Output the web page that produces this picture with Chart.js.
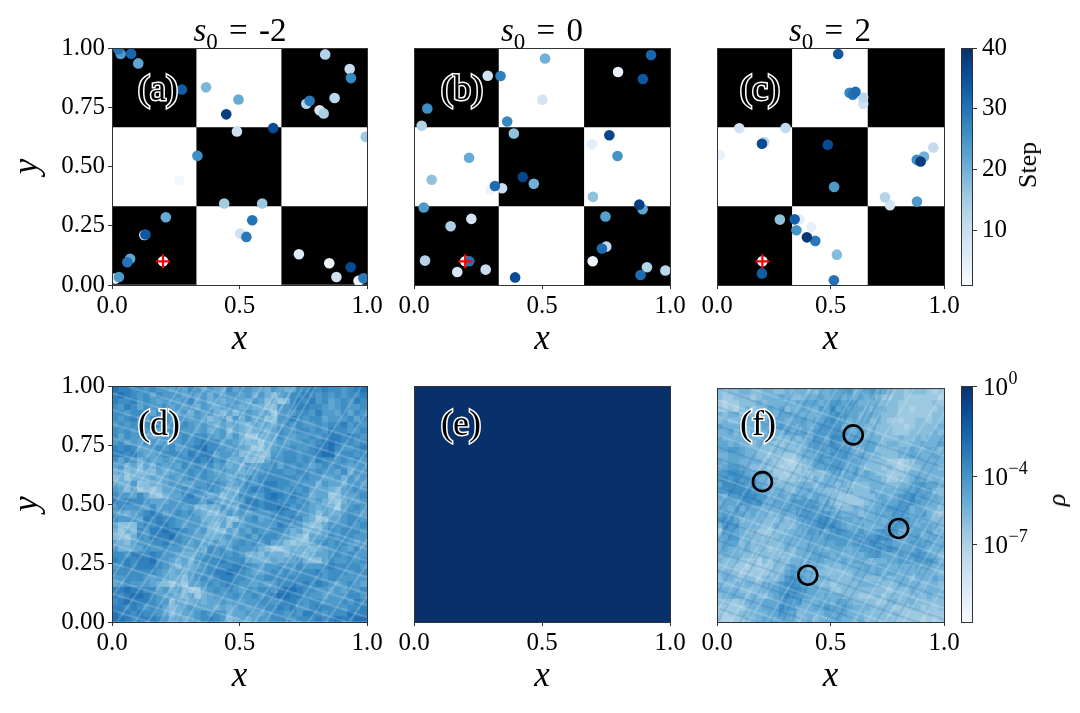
<!DOCTYPE html>
<html>
<head>
<meta charset="utf-8">
<title>Checkerboard samples</title>
<script src="https://cdn.jsdelivr.net/npm/chart.js@4"></script>
<style>
  html, body { margin: 0; background: #fff; }
  #page { position: relative; width: 1080px; height: 713px; overflow: hidden; font-family: "Liberation Serif", serif; color: #000; }
  canvas { position: absolute; }
  .title { position: absolute; font-size: 33px; line-height: 36px; white-space: nowrap; word-spacing: 3px; transform: translateX(-50%); }
  .title sub { font-size: 23px; line-height: 0; }
  .tag { position: absolute; font-size: 36px; line-height: 40px; transform: translate(-50%, -50%); -webkit-text-stroke: 3px #fff; paint-order: stroke fill; }
  .cbLabel { position: absolute; font-size: 26px; line-height: 30px; transform: translate(-50%, -50%) rotate(-90deg); }
</style>
</head>
<body>
<div id="page"></div>
<script>
// Chart data
const tickValues = [0, 0.5, 1];
const yTickValues = [0, 0.25, 0.5, 0.75, 1];
const stepTicks = [10, 20, 30, 40];
const rhoTicks = [0, -4, -7];
const titles = ['-2', '0', '2'];
const tags = ['(a)', '(b)', '(c)', '(d)', '(e)', '(f)'];

const checker = [
  [1, 0, 1],
  [0, 1, 0],
  [1, 0, 1]
];
const startX = [0.2];
const startY = [0.1];

const xA = [0.2, 0.025, 0.034, 0.075, 0.103, 0.274, 0.369, 0.496, 0.448, 0.632, 0.49, 0.335, 0.263, 0.44, 0.589, 0.211, 0.55, 0.503, 0.527, 0.127, 0.131, 0.071, 0.06, 0.013, 0.027, 0.733, 0.852, 0.936, 0.88, 0.967, 0.986, 0.836, 0.932, 0.937, 0.873, 0.762, 0.775, 0.814, 0.83, 0.995];
const yA = [0.1, 0.995, 0.975, 0.976, 0.935, 0.825, 0.834, 0.783, 0.72, 0.662, 0.648, 0.545, 0.441, 0.344, 0.344, 0.286, 0.273, 0.217, 0.203, 0.211, 0.213, 0.111, 0.096, 0.027, 0.034, 0.13, 0.092, 0.075, 0.034, 0.018, 0.028, 0.973, 0.911, 0.873, 0.789, 0.765, 0.777, 0.737, 0.724, 0.625];
const stepA = [1, 30, 24, 32, 22, 33, 19, 21, 38, 36, 9, 26, 2, 15, 16, 21, 30, 9, 29, 3, 34, 22, 30, 5, 24, 6, 3, 36, 9, 3, 29, 13, 10, 27, 12, 13, 29, 8, 14, 16];

const xB = [0.2, 0.512, 0.926, 0.797, 0.894, 0.288, 0.338, 0.501, 0.052, 0.364, 0.03, 0.39, 0.763, 0.695, 0.795, 0.215, 0.069, 0.425, 0.468, 0.344, 0.3, 0.316, 0.699, 0.038, 0.88, 0.893, 0.224, 0.143, 0.748, 0.751, 0.734, 0.043, 0.216, 0.169, 0.28, 0.698, 0.91, 0.982, 0.885, 0.395];
const yB = [0.1, 0.956, 0.97, 0.899, 0.869, 0.883, 0.882, 0.782, 0.745, 0.69, 0.672, 0.639, 0.632, 0.594, 0.544, 0.537, 0.444, 0.456, 0.427, 0.408, 0.401, 0.418, 0.372, 0.327, 0.339, 0.32, 0.279, 0.248, 0.289, 0.162, 0.154, 0.103, 0.1, 0.055, 0.065, 0.1, 0.075, 0.061, 0.042, 0.032];
const stepB = [1, 20, 32, 4, 34, 9, 28, 8, 26, 27, 13, 17, 37, 5, 25, 21, 17, 37, 20, 10, 3, 31, 17, 24, 38, 22, 8, 14, 23, 11, 31, 13, 30, 7, 10, 3, 13, 12, 31, 36];

const xC = [0.2, 0.534, 0.584, 0.61, 0.598, 0.644, 0.644, 0.098, 0.302, 0.208, 0.198, 0.488, 0.012, 0.953, 0.912, 0.88, 0.897, 0.516, 0.74, 0.762, 0.881, 0.277, 0.362, 0.342, 0.415, 0.35, 0.433, 0.396, 0.528, 0.198, 0.515];
const yC = [0.1, 0.975, 0.811, 0.815, 0.803, 0.791, 0.765, 0.661, 0.662, 0.603, 0.596, 0.592, 0.548, 0.58, 0.542, 0.528, 0.521, 0.414, 0.37, 0.337, 0.352, 0.276, 0.276, 0.277, 0.244, 0.231, 0.186, 0.201, 0.128, 0.049, 0.02];
const stepC = [1, 34, 27, 31, 30, 12, 9, 8, 11, 12, 36, 36, 4, 11, 20, 26, 38, 24, 13, 8, 24, 17, 5, 33, 4, 25, 29, 39, 18, 33, 30];

// Density panels, estimated by eye. One digit per cell, rows from the top.
// The digit picks a log10(rho) value out of shadeLevels.
const shadeLevels = [-7.6, -7.05, -6.5, -5.95, -5.4, -4.85, -4.3, -3.75, -3.2, -2.65];
const shadeD = [
  '9887767665 6576565475 6655466457 7878776789',
  '8987675766 6565646566 5646435677 8767676778',
  '8778676566 5675645456 5465342478 7867567687',
  '7687576675 6564654565 4544336678 8776567667',
  '7767765767 5646564353 5654526667 7686657576',
  '7678657776 6656534636 4645336787 6775666757',
  '6767578767 6765654545 4354546767 6676778676',
  '7676767567 7665645635 4345457667 7676877667',
  '7576665766 6767765646 4224457656 6767887876',
  '6756576567 6767877565 4342456566 7678987767',
  '8787556767 5678977656 5422456676 6788976678',
  '8878655677 7687885665 3443366776 7789967767',
  '7576465565 6778786754 5333576776 7687767676',
  '5645354656 5767675645 4656675767 6567676566',
  '4534343545 6676765655 4566777667 7676657466',
  '3424445456 5676766546 5767777776 7665564656',
  '5446334456 6556677655 6767887767 6646554665',
  '6535232355 6767676544 6787877676 7555435676',
  '7665753245 5786645345 7766898787 6455235567',
  '8787765556 6777576455 6887887776 7564324656',
  '6766657566 6564344654 7787889867 6545425676',
  '6545678756 7675433565 6566678776 6535446765',
  '7666587877 6666444533 5675677787 5423556776',
  '5333677887 6566543536 5666668766 4335666767',
  '4243768898 8765643354 6576677645 3445767776',
  '3324768889 7665544565 6757776543 2556767766',
  '5435667787 7656556456 7676755323 3567677656',
  '6445576676 6556476757 6664322344 4345676576',
  '7768878766 5445676767 6443544354 3455676766',
  '8787889765 4546777877 7544454556 4335766767',
  '6787888765 3545677778 8765667667 6667877776',
  '7777777654 5456678898 7655676767 7786777677',
  '6677765654 4356767887 7666777777 7776776666',
  '5676665432 4255676787 6656567787 8787656765',
  '8898877564 5322567676 5767768998 7766565767',
  '8789987655 4352456667 6676789988 7665666776',
  '7898887663 5445455656 5667767887 6776667687',
  '8878767753 4565554545 6566778786 6787776778',
  '9887877653 4556767645 5655677676 8876777988',
  '9987888764 5456787634 5456677767 7787898899'
];
const logRhoE = [[-0.02]];
const shadeF = [
  '3233443344 3343443344 5556445654 3332333212',
  '3223332344 4543344454 5545454532 2332222221',
  '2122333434 4444555545 6656544433 3322222232',
  '2121342345 4534454465 7565554344 3322122223',
  '4344243445 4555444455 6765544443 3322222233',
  '3433444546 5544554556 7654544343 2212233233',
  '5444544454 5655454566 6645543433 3221233334',
  '4453434445 4454565666 6665454433 3222333343',
  '5444433344 4334344665 7765554443 3343343444',
  '5545443433 3233445665 7666455543 4433445445',
  '5566544333 3333345665 6765445533 3344544543',
  '4455544332 3222344566 7665454443 3344554454',
  '5455444433 2211234565 6655544333 2212344444',
  '4566543332 2121234556 6654543332 3212334443',
  '6677654543 2212232334 5544545433 2223444444',
  '7767665443 3222332434 4545444443 2233454344',
  '5777766543 4333444344 4343333444 3344566554',
  '6677776554 4433445433 3234333544 4445565643',
  '5466777665 4545454544 3222233355 4566756554',
  '4555676754 5556666545 3222223445 5566765544',
  '5546455544 4555676654 4333434455 6666455443',
  '5665545443 4544666666 5544434455 5665456432',
  '6765344433 3434556677 6655454454 4566554433',
  '4766444333 4333456677 7654554444 5665545543',
  '3665433222 3344456565 6765565566 6644554534',
  '4566443332 3444555556 6666656677 7555564454',
  '4555343433 3344445555 5665676765 6555665544',
  '4544343332 3343445544 5554566676 7655565444',
  '3444333233 3233444555 4544545665 5565666543',
  '4333222132 3334445554 4454554344 5566566654',
  '3332212122 3345443443 4344445455 4454455544',
  '4433222222 3356544333 3333444454 5544454443',
  '3443233233 3467654444 3333443334 3444344454',
  '4334344345 5677654433 2333344443 3344443443',
  '4444333345 5667765544 3233333333 2333434444',
  '3444434334 5676655545 4433322232 3333343433',
  '3322344455 5665644455 4554333322 3433433333',
  '2222234455 5766444556 5565444333 3222332323',
  '2122334445 5655344445 4554443333 2322222222',
  '2112233455 4554334344 5544343333 3222221212'
];

// Streaks in the density panels. Steep ones run from (bottom x, 0) to (top x, 1),
// shallow ones from (0, left y) to (1, right y).
const steepBottomD = [-0.36, -0.31, -0.27, -0.2, -0.12, -0.07, 0.02, 0.09, 0.14, 0.19, 0.22, 0.25, 0.29, 0.37, 0.44, 0.52, 0.56, 0.6, 0.68, 0.77, 0.84, 0.93];
const steepTopD = [0.27, 0.33, 0.37, 0.45, 0.52, 0.59, 0.66, 0.72, 0.78, 0.67, 0.71, 0.75, 0.8, 0.98, 1.07, 1.18, 1.22, 1.26, 1.33, 1.43, 1.5, 1.58];
const shallowLeftD = [1.12, 1.06, 1.02, 0.97, 0.9, 0.84, 0.78, 0.72, 0.68, 0.65, 0.6, 0.53, 0.47, 0.42, 0.38, 0.33, 0.25, 0.18, 0.12, 0.05];
const shallowRightD = [0.76, 0.72, 0.67, 0.63, 0.56, 0.5, 0.44, 0.38, 0.33, 0.31, 0.26, 0.19, 0.12, 0.07, 0.02, -0.03, -0.09, -0.16, -0.22, -0.29];

const steepBottomF = [-0.24, -0.12, -0.03, 0.06, 0.14, 0.22, 0.36, 0.42, 0.6, 0.66, 0.74, 0.82, 0.9];
const steepTopF = [0.41, 0.53, 0.62, 0.71, 0.79, 0.87, 1.01, 1.07, 1.25, 1.31, 1.39, 1.47, 1.55];
const shallowLeftF = [1.05, 0.95, 0.88, 0.8, 0.62, 0.55, 0.48, 0.4, 0.25, 0.18, 0.1];
const shallowRightF = [0.71, 0.61, 0.54, 0.46, 0.28, 0.21, 0.14, 0.06, -0.09, -0.16, -0.24];
const darkBottomF = [-0.3, -0.22, -0.18, -0.08, 0.0, 0.1, 0.26, 0.29, 0.33, 0.48, 0.52, 0.7, 0.78];
const darkTopF = [0.35, 0.43, 0.47, 0.57, 0.65, 0.75, 0.7, 0.73, 0.77, 1.13, 1.17, 1.35, 1.43];
const darkLeftF = [1.0, 0.92, 0.84, 0.75, 0.7, 0.66, 0.58, 0.44, 0.35, 0.3, 0.22, 0.14, 0.06];
const darkRightF = [0.66, 0.58, 0.5, 0.41, 0.36, 0.32, 0.24, 0.1, 0.01, -0.04, -0.12, -0.2, -0.28];

const circleX = [0.2, 0.6, 0.8, 0.4];
const circleY = [0.6, 0.8, 0.4, 0.2];

const STEP_MIN = 1;
const STEP_MAX = 40;
const LOG_RHO_MIN = -10.44;

// Layout of the panels on the page
const FONT = '"Liberation Serif", serif';
const SPINE = '#333';
const MARGIN = { left: 102, top: 10, right: 24, bottom: 78 };
const CB_MARGIN = 22;
const page = document.getElementById('page');

// matplotlib "Blues"
const BLUES = [[247,251,255],[222,235,247],[198,219,239],[158,202,225],[107,174,214],[66,146,198],[33,113,181],[8,81,156],[8,48,107]];

function blues(t) {
  const pos = Math.min(Math.max(t, 0), 1) * (BLUES.length - 1);
  const i = Math.min(Math.floor(pos), BLUES.length - 2);
  const f = pos - i;
  const c = BLUES[i].map((v, k) => Math.round(v + (BLUES[i + 1][k] - v) * f));
  return `rgb(${c[0]},${c[1]},${c[2]})`;
}

// Turn the digit rows into rows of log10(rho)
function shadeRows(rows) {
  return rows.map(row => row.replace(/ /g, '').split('').map(d => shadeLevels[Number(d)]));
}

// Top and right spines, Chart.js only draws what the axes own
const framePlugin = {
  id: 'frame',
  afterDraw(chart) {
    const a = chart.chartArea;
    const ctx = chart.ctx;
    ctx.save();
    ctx.strokeStyle = SPINE;
    ctx.lineWidth = 1;
    ctx.strokeRect(a.left + 0.5, a.top + 0.5, a.right - a.left, a.bottom - a.top);
    ctx.restore();
  }
};

// 10^n labels on the rho colorbar, the exponent needs its own size
const powerLabelPlugin = {
  id: 'powerLabels',
  afterDraw(chart) {
    const scale = chart.scales.y;
    if (scale.type !== 'logarithmic') return;
    const ctx = chart.ctx;
    ctx.save();
    ctx.fillStyle = '#000';
    ctx.textBaseline = 'alphabetic';
    rhoTicks.forEach(e => {
      const y = scale.getPixelForValue(Math.pow(10, e));
      const x = scale.left + 11;
      ctx.font = `25px ${FONT}`;
      ctx.fillText('10', x, y + 9);
      ctx.font = `18px ${FONT}`;
      ctx.fillText(e === 0 ? '0' : '\u2212' + (-e), x + 25.5, y - 2);
    });
    ctx.restore();
  }
};

function addCanvas(left, top, width, height) {
  const canvas = document.createElement('canvas');
  canvas.width = width;
  canvas.height = height;
  canvas.style.left = left + 'px';
  canvas.style.top = top + 'px';
  page.appendChild(canvas);
  return canvas;
}

function addText(cls, left, top, html) {
  const el = document.createElement('div');
  el.className = cls;
  el.style.left = left + 'px';
  el.style.top = top + 'px';
  el.innerHTML = html;
  page.appendChild(el);
}

// One floating bar per image cell, one dataset per row
function cellDatasets(rows, plotWidth, colorOf) {
  const nRows = rows.length;
  const nCols = rows[0].length;
  return rows.map((row, r) => ({
    type: 'bar',
    order: 10,
    grouped: false,
    barThickness: plotWidth / nCols + 0.5,
    borderWidth: 0,
    data: row.map((v, c) => ({
      x: (c + 0.5) / nCols,
      y: [1 - (r + 1) / nRows, 1 - r / nRows]
    })),
    backgroundColor: row.map(colorOf)
  }));
}

function streak(from, to, color, width) {
  return {
    type: 'line',
    order: 5,
    data: [from, to],
    borderColor: color,
    borderWidth: width,
    pointRadius: 0,
    tension: 0,
    fill: false
  };
}

function steepStreaks(bottoms, tops, color, width) {
  return bottoms.map((b, i) => streak({ x: b, y: 0 }, { x: tops[i], y: 1 }, color, width));
}

function shallowStreaks(lefts, rights, color, width) {
  return lefts.map((l, i) => streak({ x: 0, y: l }, { x: 1, y: rights[i] }, color, width));
}

function stepDataset(xs, ys, steps) {
  // later steps land on top
  const idx = steps.map((s, i) => i).sort((p, q) => steps[p] - steps[q]);
  return {
    type: 'scatter',
    order: 3,
    clip: 0,
    data: idx.map(i => ({ x: xs[i], y: ys[i] })),
    pointRadius: 5.3,
    pointHoverRadius: 5.3,
    pointBorderWidth: 0,
    pointBackgroundColor: idx.map(i => blues((steps[i] - STEP_MIN) / (STEP_MAX - STEP_MIN)))
  };
}

function startDataset() {
  return {
    type: 'scatter',
    order: 1,
    data: startX.map((x, i) => ({ x: x, y: startY[i] })),
    pointStyle: 'cross',
    pointRadius: 7,
    pointBorderWidth: 2.2,
    pointBorderColor: '#f00'
  };
}

function circleDataset() {
  return {
    type: 'scatter',
    order: 1,
    data: circleX.map((x, i) => ({ x: x, y: circleY[i] })),
    pointRadius: 9.5,
    pointBorderWidth: 2.6,
    pointBorderColor: '#000',
    pointBackgroundColor: 'rgba(0,0,0,0)'
  };
}

function panel(left, top, width, height, datasets, showY) {
  const canvas = addCanvas(left - MARGIN.left, top - MARGIN.top,
    width + MARGIN.left + MARGIN.right, height + MARGIN.top + MARGIN.bottom);
  const tickFont = { family: FONT, size: 25 };
  const titleFont = { family: FONT, size: 35, style: 'italic', lineHeight: 1 };
  return new Chart(canvas, {
    type: 'bar',
    data: { datasets: datasets },
    plugins: [framePlugin],
    options: {
      responsive: false,
      animation: false,
      events: [],
      layout: { padding: { top: MARGIN.top, right: MARGIN.right } },
      categoryPercentage: 1,
      barPercentage: 1,
      plugins: { legend: { display: false }, tooltip: { enabled: false } },
      scales: {
        x: {
          type: 'linear',
          offset: false,
          min: 0,
          max: 1,
          afterFit(scale) {
            scale.height = MARGIN.bottom;
            scale.paddingLeft = 0;
            scale.paddingRight = 0;
          },
          afterBuildTicks(scale) { scale.ticks = tickValues.map(v => ({ value: v })); },
          grid: { offset: false, drawOnChartArea: false, tickColor: SPINE, tickLength: 4 },
          border: { display: false },
          title: { display: true, text: 'x', color: '#000', font: titleFont, padding: { top: 0, bottom: 6 } },
          ticks: {
            color: '#000',
            font: tickFont,
            padding: 2,
            maxRotation: 0,
            autoSkip: false,
            callback: v => v.toFixed(1)
          }
        },
        y: {
          type: 'linear',
          min: 0,
          max: 1,
          afterFit(scale) {
            scale.width = MARGIN.left;
            scale.paddingTop = 0;
            scale.paddingBottom = 0;
          },
          afterBuildTicks(scale) { scale.ticks = showY ? yTickValues.map(v => ({ value: v })) : []; },
          grid: { drawOnChartArea: false, drawTicks: showY, tickColor: SPINE, tickLength: 4 },
          border: { display: false },
          title: { display: showY, text: 'y', color: '#000', font: titleFont, padding: { top: 0, bottom: 0 } },
          ticks: {
            display: showY,
            color: '#000',
            font: tickFont,
            padding: 3,
            autoSkip: false,
            callback: v => v.toFixed(2)
          }
        }
      }
    }
  });
}

function colorbar(left, top, width, height, yScale) {
  const canvas = addCanvas(left, top - CB_MARGIN, width + 110, height + CB_MARGIN * 2);
  return new Chart(canvas, {
    type: 'bar',
    data: {
      labels: ['cb'],
      datasets: [{
        data: [[yScale.min, yScale.max]],
        borderWidth: 0,
        categoryPercentage: 1,
        barPercentage: 1,
        backgroundColor(ctx) {
          const a = ctx.chart.chartArea;
          if (!a) return '#fff';
          const g = ctx.chart.ctx.createLinearGradient(0, a.bottom, 0, a.top);
          BLUES.forEach((c, i) => g.addColorStop(i / (BLUES.length - 1), `rgb(${c[0]},${c[1]},${c[2]})`));
          return g;
        }
      }]
    },
    plugins: [framePlugin, powerLabelPlugin],
    options: {
      responsive: false,
      animation: false,
      events: [],
      layout: { padding: { top: CB_MARGIN, bottom: CB_MARGIN } },
      plugins: { legend: { display: false }, tooltip: { enabled: false } },
      scales: {
        x: { display: false },
        y: Object.assign({
          position: 'right',
          afterFit(scale) {
            scale.width = 110;
            scale.paddingTop = 0;
            scale.paddingBottom = 0;
          },
          grid: { drawOnChartArea: false, tickColor: SPINE, tickLength: 5 },
          border: { display: false }
        }, yScale)
      }
    }
  });
}

// Top row: walkers on the checkerboard
const checkerRows = (w) => cellDatasets(checker, w, v => (v ? '#000' : '#fff'));
panel(112, 48, 255, 237, [startDataset(), stepDataset(xA, yA, stepA)].concat(checkerRows(255)), true);
panel(414, 48, 256, 237, [startDataset(), stepDataset(xB, yB, stepB)].concat(checkerRows(256)), false);
panel(717, 48, 227, 237, [startDataset(), stepDataset(xC, yC, stepC)].concat(checkerRows(227)), false);

// Bottom row: densities
const rhoColor = v => blues(1 - v / LOG_RHO_MIN);
const LIGHT = 'rgba(255,255,255,0.17)';
const DARK = 'rgba(8,81,156,0.14)';
panel(112, 386, 255, 236, [].concat(
  steepStreaks(steepBottomD, steepTopD, LIGHT, 2.2),
  shallowStreaks(shallowLeftD, shallowRightD, LIGHT, 2.2),
  cellDatasets(shadeRows(shadeD), 255, rhoColor)
), true);
panel(414, 386, 256, 236, cellDatasets(logRhoE, 256, rhoColor), false);
panel(717, 386, 227, 236, [circleDataset()].concat(
  steepStreaks(steepBottomF, steepTopF, LIGHT, 2),
  shallowStreaks(shallowLeftF, shallowRightF, LIGHT, 2),
  steepStreaks(darkBottomF, darkTopF, DARK, 2),
  shallowStreaks(darkLeftF, darkRightF, DARK, 2),
  cellDatasets(shadeRows(shadeF), 227, rhoColor)
), false);

colorbar(961, 48, 11, 237, {
  type: 'linear',
  min: STEP_MIN,
  max: STEP_MAX,
  afterBuildTicks(scale) { scale.ticks = stepTicks.map(v => ({ value: v })); },
  ticks: { color: '#000', font: { family: FONT, size: 25 }, padding: 5, autoSkip: false }
});
colorbar(961, 386, 11, 236, {
  type: 'logarithmic',
  min: Math.pow(10, LOG_RHO_MIN),
  max: 1,
  afterBuildTicks(scale) { scale.ticks = rhoTicks.map(v => ({ value: Math.pow(10, v) })); },
  ticks: { autoSkip: false, callback: () => '' }
});

// Titles, panel tags and colorbar labels
const titleCenters = [240, 542, 830];
titles.forEach((t, i) => addText('title', titleCenters[i], 12, `<i>s</i><sub>0</sub> = ${t}`));
const tagX = [158, 462, 760, 159, 461, 758];
const tagY = [88, 88, 88, 423, 423, 423];
tags.forEach((t, i) => addText('tag', tagX[i], tagY[i], t));
addText('cbLabel', 1028, 165, 'Step');
addText('cbLabel', 1057, 500, '<i>\u03C1</i>');
</script>
</body>
</html>
